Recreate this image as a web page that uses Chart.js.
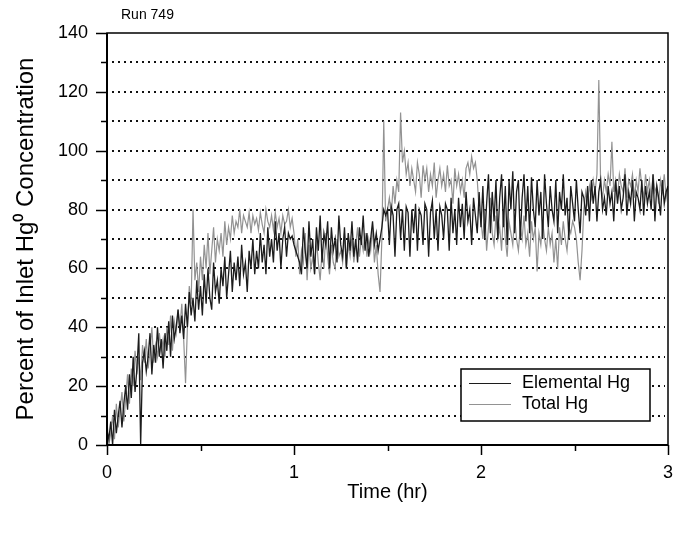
<!DOCTYPE html>
<html>
<head>
<meta charset="utf-8">
<script src="https://cdn.jsdelivr.net/npm/chart.js@4.4.1/dist/chart.umd.min.js"></script>
<style>
  html, body { margin: 0; padding: 0; background: #fff; }
  #wrap { width: 675px; height: 536px; position: relative; }
</style>
</head>
<body>
<div id="wrap"><canvas id="c" width="675" height="536"></canvas></div>
<script>
const sampleStepHr = 0.01;

const elementalHg = [
  5, 2, 8, 0, 12, 4, 10, 15, 6, 14,
  20, 12, 24, 16, 30, 18, 26, 38, 0, 28,
  32, 25, 30, 38, 24, 34, 28, 40, 30, 36,
  26, 38, 32, 42, 30, 44, 36, 40, 46, 38,
  44, 36, 48, 40, 52, 44, 50, 42, 56, 46,
  54, 44, 58, 48, 60, 50, 46, 62, 52, 56,
  48, 60, 54, 64, 50, 58, 66, 52, 62, 56,
  64, 54, 68, 58, 62, 52, 66, 60, 70, 58,
  66, 60, 72, 62, 68, 58, 74, 64, 70, 62,
  76, 66, 72, 60, 70, 74, 64, 72, 70, 71,
  68, 66, 64, 62, 58, 74, 66, 60, 76, 64,
  70, 58, 74, 66, 78, 62, 72, 68, 76, 60,
  74, 66, 70, 62, 78, 68, 64, 74, 60, 72,
  66, 76, 64, 70, 62, 74, 68, 78, 66, 72,
  64, 70, 76, 68, 72, 66, 70, 74, 80, 78,
  80, 68, 81, 78, 64, 80, 82, 70, 80, 66,
  81, 79, 64, 80, 72, 82, 66, 80, 78, 68,
  82, 80, 64, 79, 83, 70, 80, 66, 81, 78,
  70, 82, 80, 66, 84, 72, 80, 68, 84, 74,
  82, 70, 86, 76, 80, 68, 84, 78, 72, 86,
  74, 88, 70, 82, 92, 72, 86, 76, 90, 70,
  84, 92, 74, 88, 68, 90, 80, 93, 72, 86,
  90, 70, 84, 92, 76, 88, 72, 91, 80, 74,
  90, 78, 86, 70, 92, 82, 74, 88, 80, 76,
  90, 72, 86, 80, 92, 78, 84, 70, 88, 82,
  76, 90, 80, 72, 86, 84, 78, 88, 76, 90,
  82, 88, 76, 86, 90, 80, 84, 78, 88, 82,
  86, 76, 90, 82, 88, 80, 84, 92, 78, 86,
  82, 90, 76, 86, 84, 80, 90, 78, 88, 82,
  86, 80, 92, 76, 88, 84, 78, 90, 82, 86,
  88
];

const totalHg = [
  8, 0, 4, 10, 2, 14, 6, 12, 18, 8,
  16, 24, 14, 26, 20, 32, 24, 30, 22, 34,
  28, 36, 26, 32, 40, 28, 34, 30, 38, 32,
  36, 30, 40, 34, 44, 32, 42, 38, 46, 40,
  48, 36, 21, 40, 54, 48, 80, 56, 62, 52,
  64, 56, 68, 60, 72, 58, 66, 74, 62, 70,
  66, 72, 64, 76, 68, 74, 70, 78, 72, 76,
  74, 80, 72, 78, 76, 74, 79, 72, 78, 75,
  77, 73, 79, 75, 72, 80, 76, 74, 78, 73,
  79, 74, 77, 72, 78, 75, 76, 80, 74, 77,
  72, 64, 70, 58, 66, 62, 72, 56, 68, 60,
  64, 58, 70, 62, 56, 66, 60, 72, 64, 58,
  68, 62, 60, 70, 64, 66, 62, 72, 60, 68,
  64, 70, 62, 68, 74, 64, 70, 66, 72, 64,
  70, 66, 74, 62, 68, 58, 52, 70, 110, 76,
  80, 84, 78, 88, 82, 90, 86, 113, 96, 100,
  92, 96, 88, 94, 90, 86, 96, 92, 84, 95,
  90, 94, 86, 92, 88, 96, 84, 90, 94, 88,
  92, 86, 95, 88, 90, 82, 94, 88, 92, 86,
  90, 84, 94, 96, 92, 98, 94, 96, 90, 80,
  76, 70, 80, 66, 74, 84, 72, 68, 78, 70,
  74, 66, 80, 70, 64, 76, 72, 68, 78, 70,
  66, 74, 70, 78, 68, 72, 64, 76, 70, 74,
  59, 72, 68, 76, 70, 66, 74, 68, 72, 62,
  70, 60, 74, 68, 76, 70, 66, 74, 72, 76,
  74, 70, 62, 56, 66, 80, 86, 82, 88, 84,
  90, 86, 92, 124, 88, 84, 90, 86, 92, 88,
  103, 86, 90, 84, 92, 88, 86, 94, 84, 90,
  88, 92, 84, 90, 86, 94, 88, 84, 92, 86,
  90, 84, 92, 86, 88, 82, 90, 86, 92, 84,
  88
];

const seriesNames = ['Elemental Hg', 'Total Hg'];
const yMajorTicks = [0, 20, 40, 60, 80, 100, 120, 140];
const yMinorTicks = [10, 30, 50, 70, 90, 110, 130];
const yGridValues = [10, 20, 30, 40, 50, 60, 70, 80, 90, 100, 110, 120, 130];
const xMajorTicks = [0, 1, 2, 3];
const xMinorTicks = [0.5, 1.5, 2.5];
const runLabel = 'Run 749';

// ---- build points ----
const toPoints = arr => arr.map((v, i) => ({ x: +(i * sampleStepHr).toFixed(2), y: v }));

const FONT = '"Liberation Sans", Arial, Helvetica, sans-serif';
const DARK = '#1c1c1c';
const GRAY = '#929292';

const decorPlugin = {
  id: 'decor',
  beforeDatasetsDraw(chart) {
    const { ctx, chartArea: { left, right }, scales: { y } } = chart;
    ctx.save();
    ctx.strokeStyle = '#111';
    ctx.lineWidth = 2;
    ctx.setLineDash([2, 4]);
    for (const v of yGridValues) {
      const py = Math.round(y.getPixelForValue(v));
      ctx.beginPath();
      ctx.moveTo(left + 5, py);
      ctx.lineTo(right - 3, py);
      ctx.stroke();
    }
    ctx.restore();
  },
  afterDatasetsDraw(chart) {
    const { ctx, chartArea: { left, right, top, bottom }, scales: { x, y } } = chart;
    ctx.save();
    ctx.setLineDash([]);
    ctx.strokeStyle = '#000';
    // frame
    ctx.lineWidth = 1.5;
    ctx.strokeRect(left, top, right - left, bottom - top);
    ctx.lineWidth = 2;
    ctx.beginPath(); ctx.moveTo(left, top); ctx.lineTo(left, bottom); ctx.stroke();
    ctx.beginPath(); ctx.moveTo(left, bottom); ctx.lineTo(right, bottom); ctx.stroke();
    // y ticks
    ctx.lineWidth = 1.5;
    for (const v of yMajorTicks) {
      const py = Math.round(y.getPixelForValue(v)) + 0.5;
      ctx.beginPath(); ctx.moveTo(left - 11, py); ctx.lineTo(left, py); ctx.stroke();
    }
    for (const v of yMinorTicks) {
      const py = Math.round(y.getPixelForValue(v)) + 0.5;
      ctx.beginPath(); ctx.moveTo(left - 6, py); ctx.lineTo(left, py); ctx.stroke();
    }
    // x ticks
    for (const v of xMajorTicks) {
      const px = Math.round(x.getPixelForValue(v)) + 0.5;
      ctx.beginPath(); ctx.moveTo(px, bottom); ctx.lineTo(px, bottom + 10); ctx.stroke();
    }
    for (const v of xMinorTicks) {
      const px = Math.round(x.getPixelForValue(v)) + 0.5;
      ctx.beginPath(); ctx.moveTo(px, bottom); ctx.lineTo(px, bottom + 6); ctx.stroke();
    }
    // legend
    const lx = right - 207, ly = bottom - 76, lw = 189, lh = 52;
    ctx.fillStyle = '#fff';
    ctx.fillRect(lx, ly, lw, lh);
    ctx.lineWidth = 1.5;
    ctx.strokeStyle = '#000';
    ctx.strokeRect(lx, ly, lw, lh);
    const colors = [DARK, GRAY];
    ctx.font = '18px ' + FONT;
    ctx.textBaseline = 'middle';
    ctx.textAlign = 'left';
    seriesNames.forEach((name, i) => {
      const yy = ly + 14 + i * 21;
      ctx.strokeStyle = colors[i];
      ctx.lineWidth = 1;
      ctx.beginPath(); ctx.moveTo(lx + 8, yy + 0.5); ctx.lineTo(lx + 50, yy + 0.5); ctx.stroke();
      ctx.fillStyle = '#000';
      ctx.fillText(name, lx + 61, yy);
    });
    // run label
    ctx.font = '14px ' + FONT;
    ctx.fillStyle = '#000';
    ctx.textBaseline = 'middle';
    ctx.fillText(runLabel, left + 14, top - 18);
    ctx.restore();
  }
};

new Chart(document.getElementById('c'), {
  type: 'line',
  data: {
    datasets: [
      { label: seriesNames[0], data: toPoints(elementalHg), borderColor: DARK, borderWidth: 1.3, pointRadius: 0, tension: 0, fill: false },
      { label: seriesNames[1], data: toPoints(totalHg), borderColor: GRAY, borderWidth: 1.2, pointRadius: 0, tension: 0, fill: false }
    ]
  },
  options: {
    responsive: false,
    animation: false,
    devicePixelRatio: 1,
    layout: { padding: { left: 0, right: 7, top: 33, bottom: 0 } },
    plugins: { legend: { display: false }, tooltip: { enabled: false }, title: { display: false } },
    scales: {
      x: {
        type: 'linear', min: 0, max: 3,
        grid: { display: false, drawTicks: false },
        border: { display: false },
        ticks: { stepSize: 1, padding: 17, color: '#000', font: { family: FONT, size: 18 }, maxRotation: 0,
                  callback: v => (xMajorTicks.includes(v) ? String(v) : '') },
        title: { display: true, text: 'Time (hr)', color: '#000', font: { family: FONT, size: 20 }, padding: { top: 0, bottom: 32 } },
        afterFit: s => { s.height = 91; s.paddingRight = 0; s.paddingLeft = 0; }
      },
      y: {
        min: 0, max: 140,
        grid: { display: false, drawTicks: false },
        border: { display: false },
        ticks: { stepSize: 10, padding: 19, color: '#000', font: { family: FONT, size: 18 },
                  callback: v => (yMajorTicks.includes(v) ? String(v) : '') },
        title: { display: true, text: 'Percent of Inlet Hg\u2070 Concentration', color: '#000', font: { family: FONT, size: 24 }, padding: { top: 12, bottom: 0 } },
        afterFit: s => { s.width = 107; s.paddingTop = 0; s.paddingBottom = 0; }
      }
    }
  },
  plugins: [decorPlugin]
});
</script>
</body>
</html>
